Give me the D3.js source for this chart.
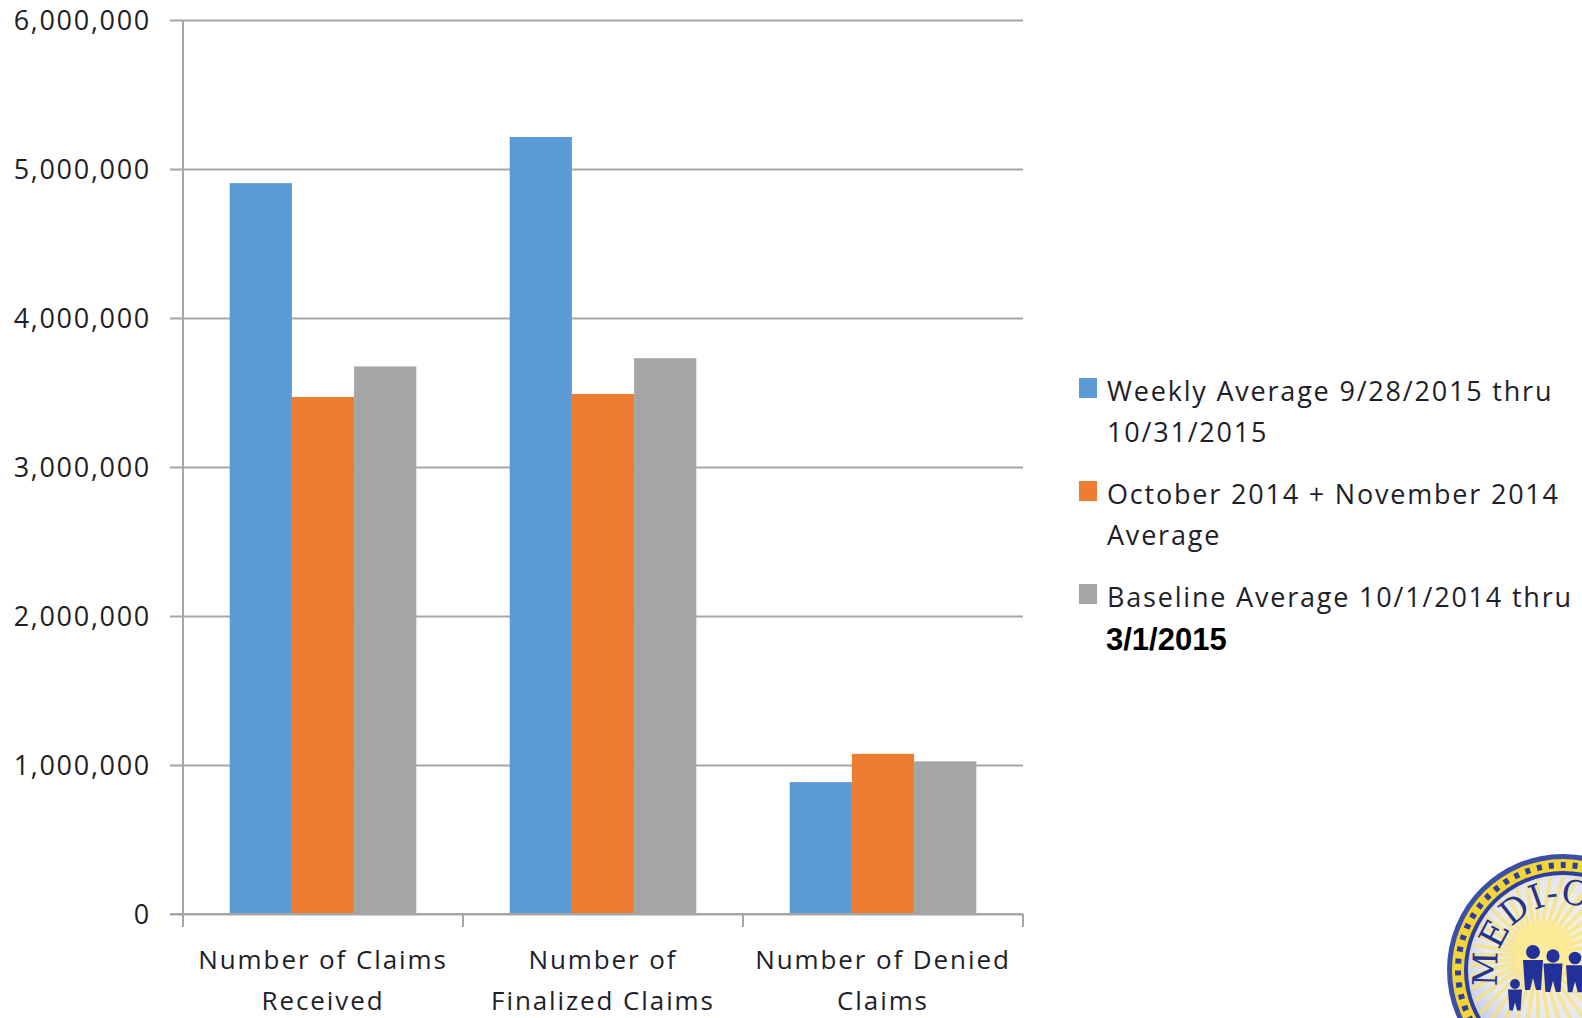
<!DOCTYPE html>
<html>
<head>
<meta charset="utf-8">
<script src="https://cdn.jsdelivr.net/npm/d3@7"></script>
<style>
  html, body { margin: 0; padding: 0; background: #fff; }
  svg { display: block; }
</style>
</head>
<body>
<svg id="chart" width="1582" height="1018"></svg>
<script>
// ---- data ----
const categories = [
  ["Number of Claims", "Received"],
  ["Number of", "Finalized Claims"],
  ["Number of Denied", "Claims"]
];
const seriesNames = [
  "Weekly Average 9/28/2015 thru 10/31/2015",
  "October 2014 + November 2014 Average",
  "Baseline Average 10/1/2014 thru 3/1/2015"
];
const weeklyAvg   = [4905000, 5215000, 885000];
const octNovAvg   = [3470000, 3490000, 1075000];
const baselineAvg = [3675000, 3730000, 1025000];
const yTicks = [0, 1000000, 2000000, 3000000, 4000000, 5000000, 6000000];
const legendLines = [
  ["Weekly Average 9/28/2015 thru", "10/31/2015"],
  ["October 2014 + November 2014", "Average"],
  ["Baseline Average 10/1/2014 thru", "3/1/2015"]
];
const colors = ["#5B9BD5", "#ED7D31", "#A5A5A5"];

// ---- layout ----
const svg = d3.select("#chart");
const plot = { left: 183, right: 1023, top: 20, bottom: 914 };
const font = "'Open Sans', 'DejaVu Sans', sans-serif";
const textColor = "#1e1e28";
const gridColor = "#a6a6a6";

const y = d3.scaleLinear().domain([0, 6000000]).range([plot.bottom, plot.top]);
const x0 = d3.scaleBand().domain(d3.range(categories.length)).range([plot.left, plot.right]).padding(0);
const bw = x0.bandwidth();
const x1 = d3.scaleBand().domain(d3.range(seriesNames.length))
  .range([bw * 0.1667, bw * (1 - 0.1667)]).padding(0);

const allSeries = [weeklyAvg, octNovAvg, baselineAvg];

// gridlines via axis
const yAxisG = svg.append("g").attr("transform", `translate(${plot.left},0)`)
  .call(d3.axisLeft(y).tickValues(yTicks).tickSize(-(plot.right - plot.left)).tickFormat(""));
yAxisG.select(".domain").remove();
yAxisG.selectAll(".tick line").attr("stroke", gridColor).attr("stroke-width", 2).attr("x1", -13);

// y labels
const fmt = d3.format(",");
svg.append("g").selectAll("text").data(yTicks).join("text")
  .attr("x", 151).attr("y", d => y(d))
  .attr("dy", "0.36em")
  .attr("text-anchor", "end")
  .attr("font-family", font).attr("font-size", 27)
  .attr("letter-spacing", 1.7)
  .attr("fill", textColor)
  .text(d => fmt(d));

// bars
const groups = svg.append("g").selectAll("g").data(categories.map((c, i) => i)).join("g")
  .attr("transform", i => `translate(${x0(i)},0)`);
groups.selectAll("rect").data(i => allSeries.map((s, k) => ({ k, v: s[i] }))).join("rect")
  .attr("x", d => x1(d.k))
  .attr("width", x1.bandwidth())
  .attr("y", d => y(d.v))
  .attr("height", d => y(0) - y(d.v))
  .attr("fill", d => colors[d.k]);

// left axis line
svg.append("line").attr("x1", plot.left).attr("x2", plot.left)
  .attr("y1", plot.top).attr("y2", plot.bottom)
  .attr("stroke", gridColor).attr("stroke-width", 2);

// x axis
const xAxisG = svg.append("g").attr("transform", `translate(0,${plot.bottom})`);
xAxisG.append("line").attr("x1", plot.left - 13).attr("x2", plot.right)
  .attr("stroke", gridColor).attr("stroke-width", 2);
const boundaries = d3.range(categories.length + 1).map(i => plot.left + i * bw);
xAxisG.selectAll("line.tk").data(boundaries).join("line").attr("class", "tk")
  .attr("x1", d => d).attr("x2", d => d).attr("y1", 0).attr("y2", 13)
  .attr("stroke", gridColor).attr("stroke-width", 2);

// category labels
const catText = svg.append("g").selectAll("text").data(categories.map((c, i) => i)).join("text")
  .attr("text-anchor", "middle")
  .attr("font-family", font).attr("font-size", 26)
  .attr("letter-spacing", 1.9)
  .attr("fill", textColor);
catText.each(function(i) {
  const t = d3.select(this);
  categories[i].forEach((line, j) => {
    t.append("tspan").attr("x", x0(i) + bw / 2).attr("y", 969 + j * 41).text(line);
  });
});

// legend
const legendTop = [378, 481, 584];
const legend = svg.append("g").selectAll("g").data(seriesNames.map((s, i) => i)).join("g");
legend.append("rect")
  .attr("x", 1079).attr("y", i => legendTop[i])
  .attr("width", 18).attr("height", 20)
  .attr("fill", i => colors[i]);
legend.append("text")
  .attr("x", 1107).attr("y", i => legendTop[i] + 22.5)
  .attr("font-family", font).attr("font-size", 27)
  .attr("letter-spacing", 1.8)
  .attr("fill", textColor)
  .text(i => legendLines[i][0]);
legend.filter(i => i < 2).append("text")
  .attr("x", 1107).attr("y", i => legendTop[i] + 63.5)
  .attr("font-family", font).attr("font-size", 27)
  .attr("letter-spacing", 1.8)
  .attr("fill", textColor)
  .text(i => legendLines[i][1]);
legend.filter(i => i === 2).append("text")
  .attr("x", 1106).attr("y", i => legendTop[i] + 66)
  .attr("font-family", "'Liberation Sans', Arial, sans-serif").attr("font-size", 31)
  .attr("font-weight", "bold")
  .attr("fill", "#000")
  .text(i => legendLines[i][1]);

// ---- logo (decorative seal, partially cut off) ----
const cx = 1563, cy = 970;
const defs = svg.append("defs");
const rg = defs.append("radialGradient").attr("id", "sealGrad").attr("cx", "45%").attr("cy", "40%").attr("r", "60%");
rg.append("stop").attr("offset", "0%").attr("stop-color", "#fff8d0");
rg.append("stop").attr("offset", "60%").attr("stop-color", "#e6e8f0");
rg.append("stop").attr("offset", "100%").attr("stop-color", "#b9c0dc");
defs.append("clipPath").attr("id", "innerClip").append("circle")
  .attr("cx", cx).attr("cy", cy).attr("r", 94);
const logo = svg.append("g");
logo.append("circle").attr("cx", cx).attr("cy", cy).attr("r", 116).attr("fill", "#3b4fa6");
logo.append("circle").attr("cx", cx).attr("cy", cy).attr("r", 111).attr("fill", "#f3d53a");
logo.append("circle").attr("cx", cx).attr("cy", cy).attr("r", 105)
  .attr("fill", "none").attr("stroke", "#2d3f9c").attr("stroke-width", 6)
  .attr("stroke-dasharray", "5 7");
logo.append("circle").attr("cx", cx).attr("cy", cy).attr("r", 99).attr("fill", "#2d3f9c");
logo.append("circle").attr("cx", cx).attr("cy", cy).attr("r", 95).attr("fill", "url(#sealGrad)");
// sun rays
const rays = d3.range(0, 360, 9);
logo.append("g").attr("clip-path", "url(#innerClip)").selectAll("line").data(rays).join("line")
  .attr("x1", a => cx - 25 + 12 * Math.cos(a * Math.PI / 180))
  .attr("y1", a => cy - 15 + 12 * Math.sin(a * Math.PI / 180))
  .attr("x2", a => cx - 25 + 110 * Math.cos(a * Math.PI / 180))
  .attr("y2", a => cy - 15 + 110 * Math.sin(a * Math.PI / 180))
  .attr("stroke", "#f7e27a").attr("stroke-width", 4).attr("opacity", 0.7);
logo.append("circle").attr("cx", cx - 20).attr("cy", cy - 20).attr("r", 30).attr("fill", "#fbeb95").attr("opacity", 0.8);
// arc text
const arcR = 66;
defs.append("path").attr("id", "sealArc")
  .attr("d", `M ${cx - arcR * Math.cos(0.25)},${cy + arcR * Math.sin(0.25)} A ${arcR},${arcR} 0 1,1 ${cx + arcR * Math.cos(0.25)},${cy + arcR * Math.sin(0.25)}`);
logo.append("text").attr("font-family", "'DejaVu Serif', 'Liberation Serif', serif")
  .attr("font-size", 34).attr("fill", "#25338a").attr("letter-spacing", 1)
  .append("textPath").attr("href", "#sealArc").text("MEDI-CAL");
// simple figures
const fig = logo.append("g").attr("fill", "#22309a");
[[cx - 30, cy - 18, 1], [cx - 10, cy - 14, 0.95], [cx - 48, cy + 14, 0.7], [cx + 12, cy - 12, 0.9]].forEach(([fx, fy, s]) => {
  fig.append("circle").attr("cx", fx).attr("cy", fy).attr("r", 7 * s);
  fig.append("path").attr("d",
    `M ${fx - 10 * s},${fy + 8 * s} L ${fx + 10 * s},${fy + 8 * s} L ${fx + 8 * s},${fy + 38 * s} L ${fx + 3 * s},${fy + 38 * s} L ${fx},${fy + 26 * s} L ${fx - 3 * s},${fy + 38 * s} L ${fx - 8 * s},${fy + 38 * s} Z`);
});
logo.append("text").attr("x", cx - 55).attr("y", cy + 60)
  .attr("font-family", "'DejaVu Serif', serif").attr("font-style", "italic")
  .attr("font-size", 14).attr("fill", "#3a4aa0").text("Serving California");
</script>
</body>
</html>
